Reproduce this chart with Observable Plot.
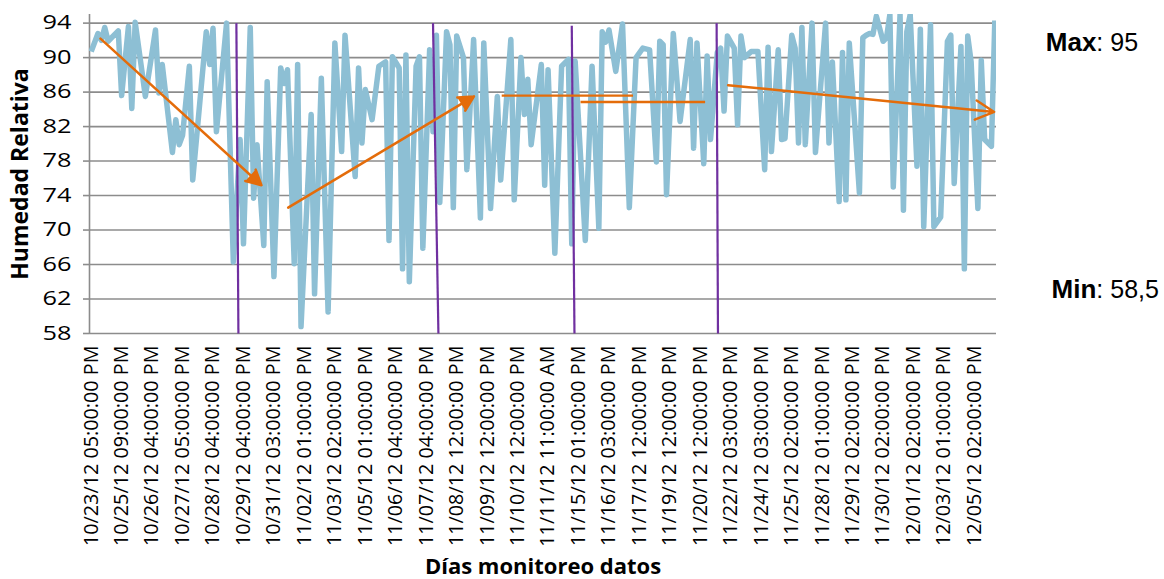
<!DOCTYPE html>
<html><head><meta charset="utf-8">
<script src="https://cdn.jsdelivr.net/npm/d3@7"></script>
<script src="https://cdn.jsdelivr.net/npm/@observablehq/plot@0.6"></script>
<style>body{margin:0;background:#fff;} #chart svg{display:block;}</style>
</head><body><div id="chart"></div>
<script>
// ---- Data ----
const etiquetas = [
  "10/23/12 05:00:00 PM","10/25/12 09:00:00 PM","10/26/12 04:00:00 PM","10/27/12 05:00:00 PM",
  "10/28/12 04:00:00 PM","10/29/12 04:00:00 PM","10/31/12 03:00:00 PM","11/02/12 01:00:00 PM",
  "11/03/12 02:00:00 PM","11/05/12 01:00:00 PM","11/06/12 04:00:00 PM","11/07/12 04:00:00 PM",
  "11/08/12 12:00:00 PM","11/09/12 12:00:00 PM","11/10/12 12:00:00 PM","11/11/12 11:00:00 AM",
  "11/15/12 01:00:00 PM","11/16/12 03:00:00 PM","11/17/12 12:00:00 PM","11/19/12 12:00:00 PM",
  "11/20/12 12:00:00 PM","11/22/12 03:00:00 PM","11/24/12 03:00:00 PM","11/25/12 02:00:00 PM",
  "11/28/12 01:00:00 PM","11/29/12 02:00:00 PM","11/30/12 02:00:00 PM","12/01/12 02:00:00 PM",
  "12/03/12 01:00:00 PM","12/05/12 02:00:00 PM"
];
const pasoEtiqueta = 9;
const numPuntos = 268;

// reading number (category index) and relative humidity read at each vertex
const punto = [
  0,2,3,4,5,8,9,11,12,13,15,16,19,20,21,24,25,26,27,29,30,34,35,36,
  37,40,42,44,45,47,48,49,51,52,54,56,57,58,60,61,62,65,66,68,70,72,74,75,
  78,79,80,81,83,85,87,88,89,91,92,93,94,96,97,98,100,101,102,103,105,106,107,108,110,111,113,
  115,116,118,120,121,124,125,127,128,129,130,133,134,135,137,139,141,142,143,146,148,150,151,152,
  153,155,157,159,161,163,165,167,168,169,170,172,174,177,178,179,181,182,183,185,186,187,188,190,
  191,192,193,195,197,199,200,201,203,204,205,207,208,209,210,211,213,214,217,218,219,221,222,223,224,227,228,229,
  230,231,232,234,235,236,237,239,240,241,242,244,245,246,248,249,251,253,254,255,257,258,259,260,262,263,264,266,267
];
const humedad = [
  90.7,92.8,92.0,93.5,91.9,93.1,85.6,93.6,84.1,94.1,88.4,85.5,93.2,85.9,89.2,79.0,82.8,79.9,81.0,89.0,75.8,93.0,89.2,93.4,
  81.4,94.0,66.3,80.5,68.4,93.5,73.7,79.9,68.2,87.2,64.6,88.8,87.0,88.6,66.1,89.2,58.8,83.4,62.6,87.6,60.5,91.7,79.1,92.6,
  76.2,88.8,80.1,86.3,82.8,89.0,89.5,68.8,90.1,88.8,65.5,90.3,64.0,89.0,90.1,67.9,90.9,81.4,92.6,73.2,93.0,91.5,72.6,92.5,90.0,77.0,92.1,
  71.4,91.7,72.5,85.5,75.8,92.1,73.5,90.0,83.4,87.5,79.9,89.2,75.2,88.6,67.3,89.0,89.8,68.4,89.6,68.8,89.0,70.2,93.0,91.8,
  93.2,88.4,93.9,72.6,90.0,91.1,90.9,77.9,91.9,91.5,74.1,92.8,82.6,92.1,79.5,91.7,77.7,90.2,80.5,90.6,91.1,83.8,92.5,91.1,
  82.2,92.5,90.0,90.7,90.7,77.0,91.2,79.1,90.9,80.5,80.6,92.6,91.1,80.1,93.5,79.9,94.0,79.0,94.0,80.1,89.5,73.3,90.6,73.5,91.7,74.3,92.3,92.6,
  92.8,92.7,94.8,91.9,92.3,95.0,75.0,95.0,72.3,93.0,95.0,77.4,93.3,70.4,93.8,70.4,71.5,91.9,92.6,75.4,91.3,65.5,92.5,89.5,72.5,89.7,80.5,79.7,94.3
];
const yTicks = [58, 62, 66, 70, 74, 78, 82, 86, 90, 94];
const yDominio = [58, 95];

// annotations: purple separators
const moradaX1 = [42.9, 101.0, 142.0, 184.8];
const moradaX2 = [43.5, 102.6, 142.8, 185.2];
const moradaY1 = [94, 94, 93.7, 94];
const moradaY2 = [58, 58, 58, 58];
// orange trend arrows (filled heads)
const flechaX1 = [2.75, 58.2];
const flechaY1 = [92.2, 72.6];
const flechaX2 = [50.3, 113.1];
const flechaY2 = [75.2, 85.5];
// orange horizontal segments
const segX1 = [121.3, 144.6];
const segX2 = [160.1, 181.4];
const segY = [85.6, 84.85];
// orange open arrow
const abiertaX1 = [188.2], abiertaY1 = [86.8], abiertaX2 = [266.8], abiertaY2 = [83.7];
// right-hand notes
const notaEtiqueta = ["Max", "Min"];
const notaValor = [": 95", ": 58,5"];
const notaX = [297.0, 297.0];
const notaY = [91.7, 63.1];

// ---- Tables ----
const serie = punto.map((p, i) => ({p, v: humedad[i]}));
const tickIdx = etiquetas.map((_, i) => i * pasoEtiqueta);
const moradas = moradaX1.map((x, i) => ({x1: x, x2: moradaX2[i], y1: moradaY1[i], y2: moradaY2[i]}));
const flechas = flechaX1.map((x, i) => ({x1: x, y1: flechaY1[i], x2: flechaX2[i], y2: flechaY2[i]}));
const segmentos = segX1.map((x, i) => ({x1: x, x2: segX2[i], y: segY[i]}));
const abierta = abiertaX1.map((x, i) => ({x1: x, y1: abiertaY1[i], x2: abiertaX2[i], y2: abiertaY2[i]}));
const notas = notaEtiqueta.map((t, i) => ({t, v: notaValor[i], x: notaX[i], y: notaY[i]}));
const xDominio = [-0.5, numPuntos - 0.5];

const naranja = "#E46C0A", gris = "#8C8C8C";

const chart = Plot.plot({
  width: 1164, height: 579,
  marginLeft: 89, marginRight: 168, marginTop: 14, marginBottom: 246,
  style: {fontFamily: "'Open Sans', sans-serif", color: "#000", background: "#fff"},
  x: {type: "linear", domain: xDominio},
  y: {domain: yDominio},
  marks: [
    Plot.gridY(yTicks, {stroke: gris, strokeOpacity: 1, strokeWidth: 1.6}),
    Plot.ruleX([xDominio[0]], {stroke: gris, strokeWidth: 1.6}),
    Plot.axisY(yTicks, {tickSize: 6, tickPadding: 12, fontSize: 19.5, stroke: gris, strokeWidth: 1.6, fill: "#000", label: null}),
    Plot.axisX(tickIdx, {tickSize: 0, tickPadding: 12, tickRotate: -90, fontSize: 19.8, fill: "#000",
      tickFormat: d => etiquetas[Math.round(d / pasoEtiqueta)], label: null}),
    Plot.line(serie, {x: "p", y: "v", stroke: "#8DBFD4", strokeWidth: 5.5, strokeLinejoin: "round", strokeLinecap: "butt", clip: true}),
    Plot.link(moradas, {x1: "x1", y1: "y1", x2: "x2", y2: "y2", stroke: "#7030A0", strokeWidth: 2.2}),
    Plot.arrow(flechas, {x1: "x1", y1: "y1", x2: "x2", y2: "y2", stroke: naranja, fill: naranja, strokeWidth: 2.5, headLength: 10, headAngle: 55}),
    Plot.link(segmentos, {x1: "x1", x2: "x2", y1: "y", y2: "y", stroke: naranja, strokeWidth: 2.3}),
    Plot.arrow(abierta, {x1: "x1", y1: "y1", x2: "x2", y2: "y2", stroke: naranja, strokeWidth: 2.5, headLength: 12.5, headAngle: 55}),
    Plot.text(["Humedad Relativa"], {frameAnchor: "left", textAnchor: "middle", rotate: -90, dx: -69, fontWeight: "bold", fontSize: 23, fill: "#000"}),
    Plot.text(["Días monitoreo datos"], {frameAnchor: "bottom", textAnchor: "middle", dy: 240, fontWeight: "bold", fontSize: 22, fill: "#000"}),
    Plot.text(notas, {x: "x", y: "y", text: "t", textAnchor: "end", fontWeight: "bold", fontSize: 26, fontFamily: "'Liberation Sans', Arial, sans-serif", fill: "#000"}),
    Plot.text(notas, {x: "x", y: "y", text: "v", textAnchor: "start", fontSize: 25, fontFamily: "'Liberation Sans', Arial, sans-serif", fill: "#000"})
  ]
});
document.getElementById("chart").appendChild(chart);

// widen the y tick labels horizontally, as in the reference
d3.select(chart).selectAll('g[aria-label="y-axis tick label"] text').each(function () {
  const t = this.getAttribute("transform");
  if (t) {
    this.setAttribute("transform", t + " scale(1.3,1)");
  } else {
    const x = +this.getAttribute("x") || 0;
    this.setAttribute("transform", `translate(${x},0) scale(1.3,1) translate(${-x},0)`);
  }
});
</script>
</body></html>
